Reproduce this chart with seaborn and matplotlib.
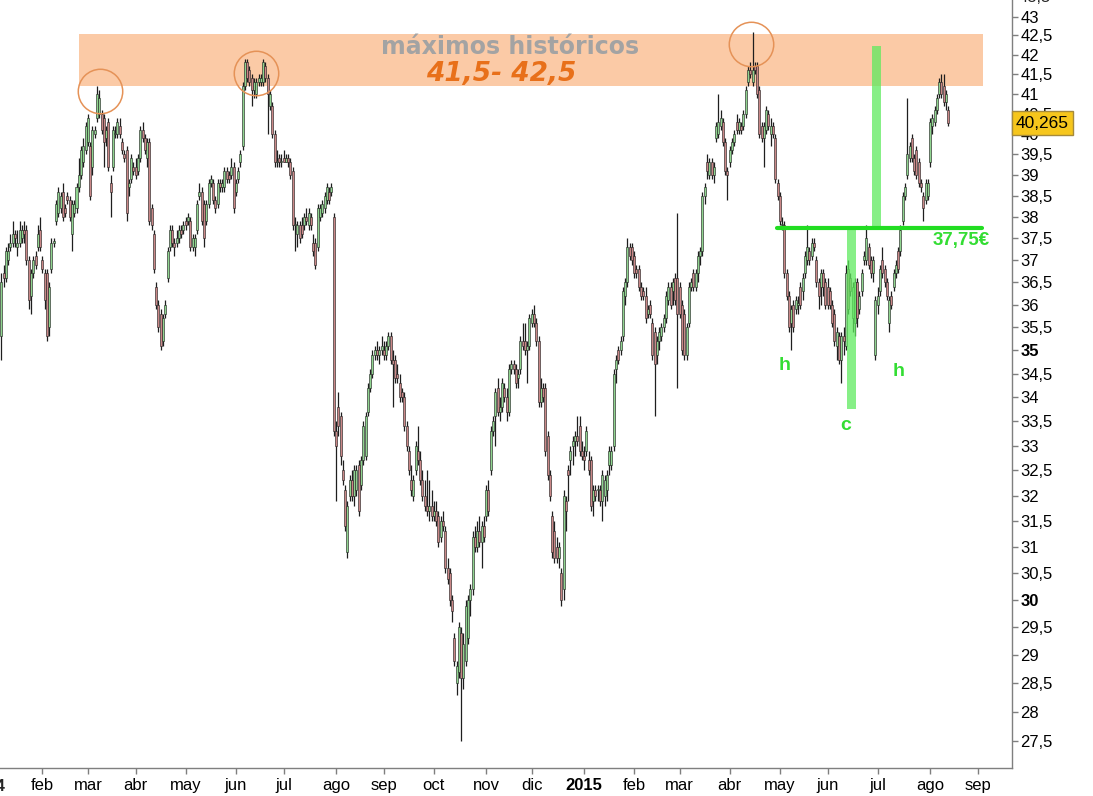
import numpy as np
import pandas as pd
import matplotlib
matplotlib.use("Agg")
import matplotlib.pyplot as plt
import matplotlib.transforms as mtransforms
from matplotlib.ticker import NullLocator
import seaborn as sns

# ---- daily candles (open, high, low, close) ----
jan14 = [(35.3, 36.7, 34.8, 36.5), (36.7, 36.9, 36.4, 36.6), (36.6, 37.3, 36.5, 37.2), (37.0, 37.4, 36.9, 37.2),
         (37.3, 37.6, 37.2, 37.4), (37.4, 37.9, 37.3, 37.6), (37.6, 37.7, 37.3, 37.5), (37.3, 37.7, 37.1, 37.4),
         (37.4, 37.9, 37.3, 37.7), (37.5, 37.8, 37.4, 37.7), (37.7, 37.9, 37.4, 37.6), (37.7, 37.8, 36.9, 37.0),
         (37.0, 37.1, 35.9, 36.1), (36.2, 36.8, 35.8, 36.7), (36.7, 37.1, 36.6, 37.0), (37.1, 37.2, 36.8, 36.9),
         (37.3, 37.8, 37.2, 37.6), (37.7, 38.0, 37.2, 37.3)]
feb14 = [(37.0, 37.1, 36.7, 36.8), (36.7, 36.8, 35.9, 36.1), (36.7, 36.8, 35.2, 35.3), (35.5, 36.5, 35.3, 36.4),
         (36.8, 37.5, 36.7, 37.4), (37.4, 37.5, 37.3, 37.4), (37.9, 38.4, 37.8, 38.3), (38.1, 38.7, 38.0, 38.6),
         (38.2, 38.6, 38.1, 38.5), (38.6, 38.8, 37.9, 38.0), (38.2, 38.3, 38.0, 38.1), (38.5, 38.6, 38.3, 38.4),
         (38.4, 38.5, 37.9, 38.0), (37.6, 38.4, 37.2, 38.3), (38.1, 38.4, 38.0, 38.3), (38.2, 38.8, 38.1, 38.7),
         (38.7, 39.4, 38.6, 39.0), (39.0, 39.7, 38.9, 39.6), (39.3, 39.9, 39.2, 39.7), (39.6, 40.3, 39.5, 40.2)]
mar14 = [(39.8, 40.5, 39.7, 40.4), (39.7, 39.8, 38.4, 38.5), (39.2, 40.2, 39.0, 40.1), (40.0, 40.2, 39.9, 40.1),
         (40.4, 41.2, 40.3, 41.0), (40.5, 41.1, 40.4, 40.9), (40.5, 40.6, 40.0, 40.1), (40.4, 40.5, 39.2, 39.8),
         (39.9, 40.2, 39.7, 40.1), (40.3, 40.4, 39.1, 39.2), (38.8, 39.0, 38.0, 38.6), (39.2, 40.2, 39.1, 40.1),
         (40.0, 40.2, 39.9, 40.0), (40.0, 40.4, 39.9, 40.3), (40.2, 40.4, 39.9, 40.0), (39.8, 39.9, 39.5, 39.6),
         (39.5, 39.6, 39.3, 39.4), (39.6, 39.7, 37.9, 38.1), (38.7, 38.9, 38.5, 38.8), (38.9, 39.5, 38.8, 39.4),
         (39.2, 39.3, 39.0, 39.1)]
apr14 = [(39.2, 39.4, 38.9, 39.0), (39.1, 39.5, 39.0, 39.4), (39.4, 40.2, 39.3, 40.1), (40.1, 40.3, 39.8, 39.9),
         (39.9, 40.0, 39.5, 39.6), (39.4, 39.9, 39.2, 39.8), (39.8, 39.9, 37.8, 37.9), (38.2, 38.3, 37.7, 37.8),
         (37.6, 37.7, 36.7, 36.8), (36.4, 36.5, 35.9, 36.0), (36.0, 36.1, 35.4, 35.5), (35.8, 35.9, 35.0, 35.1),
         (35.2, 35.8, 35.1, 35.7), (35.8, 36.1, 35.7, 36.0), (36.6, 37.3, 36.5, 37.2), (37.3, 37.8, 37.2, 37.7),
         (37.7, 37.8, 37.3, 37.4), (37.4, 37.5, 37.1, 37.3), (37.4, 37.7, 37.3, 37.5), (37.5, 37.8, 37.4, 37.7),
         (37.7, 37.8, 37.5, 37.6), (37.7, 37.9, 37.6, 37.8)]
may14 = [(37.9, 38.0, 37.7, 37.8), (37.9, 38.1, 37.8, 38.0), (37.9, 38.0, 37.2, 37.3), (37.3, 37.6, 37.2, 37.5),
         (37.3, 37.6, 37.1, 37.5), (37.7, 38.4, 37.6, 38.3), (38.5, 38.8, 38.4, 38.6), (38.6, 38.7, 37.8, 37.9),
         (38.3, 38.4, 37.3, 37.5), (37.9, 38.4, 37.8, 38.3), (38.3, 38.9, 38.2, 38.8), (38.8, 39.0, 38.7, 38.9),
         (38.8, 38.9, 38.3, 38.4), (38.4, 38.5, 38.1, 38.2), (38.3, 38.9, 38.2, 38.8), (38.8, 38.9, 38.6, 38.7),
         (38.7, 38.9, 38.6, 38.8), (38.7, 39.2, 38.6, 39.1), (39.1, 39.2, 38.8, 38.9), (39.0, 39.1, 38.8, 38.9),
         (39.0, 39.4, 38.9, 39.2), (39.2, 39.3, 38.1, 38.2)]
jun14 = [(38.6, 38.9, 38.5, 38.8), (38.9, 39.2, 38.8, 39.1), (39.3, 39.6, 39.2, 39.5), (39.7, 41.3, 39.6, 41.2),
         (41.2, 41.9, 41.1, 41.8), (41.8, 41.9, 41.3, 41.4), (41.6, 41.7, 41.2, 41.3), (41.4, 41.5, 40.7, 41.1),
         (41.1, 41.4, 40.9, 41.3), (41.0, 41.4, 40.9, 41.3), (41.3, 41.5, 41.2, 41.4), (41.3, 41.5, 41.2, 41.4),
         (41.3, 41.9, 41.2, 41.8), (41.7, 41.8, 41.3, 41.4), (41.4, 41.5, 40.0, 41.0), (40.7, 41.1, 40.6, 41.0),
         (40.7, 40.8, 39.9, 40.0), (40.0, 40.1, 39.2, 39.3), (39.3, 39.6, 39.2, 39.3), (39.4, 39.5, 39.2, 39.3),
         (39.3, 39.5, 39.2, 39.3)]
jul14 = [(39.4, 39.6, 39.3, 39.3), (39.3, 39.5, 39.3, 39.4), (39.4, 39.5, 39.2, 39.3), (39.3, 39.4, 38.9, 39.0),
         (39.1, 39.2, 37.7, 37.8), (37.8, 38.0, 37.2, 37.8), (37.6, 37.9, 37.3, 37.8), (37.8, 37.9, 37.4, 37.5),
         (37.8, 38.0, 37.5, 37.6), (37.8, 38.1, 37.7, 38.0), (38.0, 38.2, 37.8, 37.9), (37.8, 38.2, 37.7, 38.1),
         (38.0, 38.1, 37.7, 37.8), (37.4, 37.6, 37.1, 37.2), (37.4, 37.5, 36.8, 36.9), (37.3, 38.3, 37.2, 38.2),
         (38.0, 38.3, 37.9, 38.2), (38.1, 38.4, 38.0, 38.3), (38.2, 38.6, 38.1, 38.5), (38.4, 38.8, 38.3, 38.7),
         (38.6, 38.7, 38.3, 38.4), (38.6, 38.8, 38.5, 38.7), (38.0, 38.1, 33.2, 33.3)]
aug14 = [(33.3, 33.5, 31.9, 33.0), (33.8, 34.1, 33.2, 33.4), (33.6, 33.7, 32.6, 32.8), (32.5, 32.7, 32.2, 32.3),
         (32.1, 32.2, 31.3, 31.4), (30.9, 31.9, 30.8, 31.8), (32.0, 32.4, 31.9, 32.3), (32.3, 32.5, 31.9, 32.0),
         (32.0, 32.6, 31.8, 32.5), (32.1, 32.6, 32.0, 32.5), (32.6, 32.7, 31.6, 31.7), (32.2, 32.8, 32.1, 32.7),
         (32.7, 33.5, 32.6, 33.4), (32.8, 33.7, 32.7, 33.6), (33.7, 34.3, 33.6, 34.2), (34.2, 34.6, 34.1, 34.5),
         (34.5, 35.0, 34.4, 34.9), (34.9, 35.1, 34.8, 35.0), (35.0, 35.2, 34.8, 34.9), (34.9, 35.1, 34.7, 35.0),
         (35.0, 35.3, 34.9, 35.1)]
sep14 = [(35.0, 35.2, 34.8, 34.9), (34.9, 35.2, 34.8, 35.1), (35.1, 35.4, 35.0, 35.3), (35.3, 35.4, 34.7, 34.8),
         (34.8, 35.0, 33.8, 34.7), (34.8, 34.9, 34.3, 34.4), (34.5, 34.7, 34.3, 34.4), (34.3, 34.5, 33.9, 34.0),
         (34.1, 34.2, 33.9, 34.0), (34.0, 34.1, 33.3, 33.4), (33.4, 33.5, 32.9, 33.0), (32.9, 33.0, 32.4, 32.5),
         (32.3, 32.6, 32.0, 32.1), (32.0, 32.4, 31.9, 32.3), (32.5, 33.1, 32.4, 33.0), (32.9, 33.4, 32.6, 32.7),
         (32.7, 32.9, 32.2, 32.3), (32.3, 32.5, 31.9, 32.0), (32.0, 32.3, 31.7, 31.8), (31.8, 32.5, 31.6, 31.7),
         (31.7, 32.3, 31.5, 31.8), (31.8, 32.1, 31.5, 31.6)]
oct14 = [(31.6, 31.9, 31.5, 31.7), (31.7, 31.9, 31.4, 31.5), (31.6, 31.7, 31.0, 31.1), (31.2, 31.6, 31.1, 31.5),
         (31.5, 31.7, 31.3, 31.4), (31.3, 31.4, 30.5, 30.6), (30.6, 30.8, 30.3, 30.4), (30.5, 30.6, 29.9, 30.0),
         (30.0, 30.1, 29.6, 29.8), (29.3, 29.4, 28.8, 28.9), (28.5, 28.9, 28.3, 28.8), (28.7, 29.6, 28.6, 29.5),
         (29.4, 29.5, 27.5, 28.6), (28.6, 29.4, 28.4, 29.2), (28.9, 30.0, 28.8, 29.9), (29.3, 30.1, 29.2, 30.0),
         (30.0, 30.3, 29.7, 30.2), (30.2, 31.3, 30.1, 31.2), (31.2, 31.4, 30.9, 31.0), (31.0, 31.5, 30.9, 31.3),
         (31.3, 31.6, 31.0, 31.1), (31.1, 31.5, 30.6, 31.4), (31.4, 31.6, 31.1, 31.2)]
nov14 = [(31.6, 32.2, 31.5, 32.1), (32.1, 32.3, 31.6, 31.7), (32.5, 33.4, 32.4, 33.3), (33.3, 33.6, 33.2, 33.5),
         (33.6, 34.2, 33.0, 34.1), (34.2, 34.4, 33.6, 33.7), (33.7, 34.0, 33.5, 33.8), (33.8, 34.4, 33.7, 34.3),
         (34.2, 34.3, 33.9, 34.0), (34.0, 34.2, 33.5, 33.7), (33.7, 34.7, 33.6, 34.6), (34.6, 34.8, 34.5, 34.7),
         (34.7, 34.8, 34.5, 34.6), (34.6, 34.7, 34.2, 34.3), (34.4, 34.6, 34.2, 34.5), (34.6, 35.3, 34.5, 35.2),
         (35.2, 35.6, 35.0, 35.1), (35.2, 35.6, 34.9, 35.0), (35.0, 35.2, 34.3, 35.1), (35.1, 35.8, 35.0, 35.7)]
dec14 = [(35.6, 35.9, 35.5, 35.8), (35.8, 36.0, 35.5, 35.6), (35.6, 35.7, 35.1, 35.2), (35.2, 35.3, 33.8, 33.9),
         (33.9, 34.4, 33.8, 34.2), (34.2, 34.3, 33.9, 34.0), (34.2, 34.3, 32.8, 32.9), (33.2, 33.3, 32.3, 32.4),
         (32.4, 32.5, 31.9, 32.0), (31.6, 31.7, 30.8, 30.9), (31.3, 31.5, 30.7, 30.8), (31.0, 31.2, 30.7, 30.8),
         (30.8, 31.1, 30.6, 31.0), (30.5, 30.6, 29.9, 30.0), (30.2, 32.1, 30.0, 32.0), (31.9, 32.0, 31.3, 31.7),
         (32.5, 32.6, 31.9, 32.4), (32.7, 33.0, 32.4, 32.9), (33.0, 33.2, 32.6, 33.1), (33.1, 33.3, 32.8, 33.2),
         (33.2, 33.6, 33.0, 33.1), (33.4, 33.6, 32.8, 32.9), (32.9, 33.1, 32.7, 32.8)]
jan15 = [(32.8, 33.0, 32.5, 32.7), (32.9, 33.4, 32.8, 33.3), (32.7, 32.9, 32.4, 32.5), (32.7, 32.8, 31.7, 31.8),
         (31.9, 32.2, 31.6, 32.1), (32.1, 32.2, 31.9, 32.0), (32.1, 32.2, 31.9, 32.1), (32.1, 32.2, 31.8, 31.9),
         (31.9, 32.5, 31.5, 32.4), (32.0, 32.4, 31.8, 32.3), (32.1, 32.5, 31.9, 32.4), (32.6, 33.0, 32.4, 32.9),
         (32.6, 33.0, 32.5, 32.9), (33.0, 34.6, 32.9, 34.5), (34.6, 34.9, 34.3, 34.8), (35.0, 35.1, 34.7, 34.8),
         (35.0, 35.3, 34.9, 35.2), (35.3, 36.4, 35.2, 36.3), (36.2, 36.6, 36.0, 36.5), (36.5, 37.5, 36.4, 37.3),
         (37.3, 37.4, 37.0, 37.1), (37.3, 37.4, 36.9, 37.0)]
feb15 = [(37.1, 37.2, 36.6, 36.7), (36.8, 36.9, 36.6, 36.7), (36.8, 36.9, 36.3, 36.4), (36.4, 36.5, 36.1, 36.2),
         (36.3, 36.4, 36.1, 36.2), (36.2, 36.4, 35.6, 35.7), (35.8, 36.0, 35.7, 35.9), (36.0, 36.1, 35.7, 35.8),
         (35.6, 35.7, 34.8, 34.9), (35.4, 35.5, 33.6, 34.7), (34.9, 35.3, 34.7, 35.2), (35.2, 35.5, 35.0, 35.4),
         (35.3, 35.6, 35.2, 35.5), (35.5, 35.8, 35.4, 35.7), (35.7, 36.3, 35.6, 36.2), (36.1, 36.5, 36.0, 36.4),
         (36.4, 36.5, 35.9, 36.0), (36.3, 36.6, 36.0, 36.5), (36.6, 36.7, 36.0, 36.1), (36.6, 38.1, 34.2, 35.8)]
mar15 = [(36.4, 36.5, 35.7, 35.8), (36.0, 36.1, 34.9, 35.0), (35.8, 35.9, 34.8, 34.9), (34.9, 35.6, 34.8, 35.5),
         (35.6, 36.5, 35.5, 36.4), (36.4, 36.6, 36.3, 36.5), (36.7, 36.8, 36.3, 36.4), (36.4, 36.8, 36.3, 36.7),
         (36.7, 37.2, 36.5, 37.1), (37.1, 37.3, 36.9, 37.2), (37.2, 38.6, 37.1, 38.5), (38.5, 38.8, 38.3, 38.7),
         (39.3, 39.5, 38.9, 39.1), (39.0, 39.4, 38.9, 39.3), (39.3, 39.4, 38.9, 39.0), (39.0, 39.3, 38.8, 39.2),
         (39.9, 40.3, 39.8, 40.2), (40.0, 41.0, 39.9, 40.3), (40.2, 40.6, 40.1, 40.4), (40.3, 40.4, 39.7, 39.8),
         (39.8, 39.9, 39.0, 39.1), (39.1, 39.2, 38.4, 39.0)]
apr15 = [(39.3, 39.7, 39.2, 39.6), (39.6, 39.9, 39.5, 39.8), (39.8, 40.1, 39.7, 40.0), (40.3, 40.5, 40.0, 40.1),
         (40.1, 40.4, 40.0, 40.3), (40.2, 40.3, 40.0, 40.1), (40.2, 40.6, 40.1, 40.5), (40.5, 41.2, 40.4, 41.1),
         (41.3, 41.7, 41.2, 41.6), (41.6, 41.8, 41.4, 41.5), (41.3, 42.6, 41.2, 41.6), (41.7, 41.8, 41.5, 41.6),
         (41.7, 41.8, 40.9, 41.0), (41.1, 41.2, 39.9, 40.0), (40.2, 40.3, 39.8, 39.9), (39.9, 40.3, 39.2, 40.2),
         (40.1, 40.7, 40.0, 40.6), (40.5, 40.6, 40.1, 40.2), (40.0, 40.4, 39.7, 40.2), (40.2, 40.3, 39.9, 40.0),
         (39.9, 40.0, 38.8, 38.9), (38.8, 38.9, 38.4, 38.5)]
may15 = [(38.5, 38.6, 37.8, 37.9), (37.8, 38.0, 37.7, 37.8), (37.8, 37.9, 36.6, 36.7), (36.7, 36.8, 36.1, 36.2),
         (36.2, 36.3, 35.4, 35.5), (35.6, 36.0, 35.0, 35.9), (36.0, 36.1, 35.4, 35.5), (35.9, 36.2, 35.8, 36.1),
         (36.0, 36.2, 35.8, 36.0), (36.4, 36.5, 35.9, 36.0), (36.3, 36.7, 36.1, 36.6), (36.7, 37.2, 36.6, 37.1),
         (37.0, 37.8, 36.9, 37.3), (37.2, 37.3, 36.9, 37.0), (37.1, 37.5, 37.0, 37.4), (37.4, 37.5, 37.2, 37.3),
         (37.0, 37.1, 36.4, 36.5), (36.5, 36.6, 35.9, 36.2), (36.4, 36.8, 36.0, 36.7), (36.7, 36.8, 36.2, 36.4),
         (36.5, 36.6, 35.9, 36.0)]
jun15 = [(36.4, 36.6, 35.9, 36.0), (36.3, 36.4, 35.9, 36.0), (36.0, 36.1, 35.5, 35.6), (35.8, 35.9, 35.1, 35.2),
         (35.1, 35.5, 34.8, 35.4), (35.3, 35.4, 34.7, 34.8), (34.8, 35.4, 34.3, 35.3), (35.3, 35.5, 34.9, 35.2),
         (35.1, 36.9, 35.0, 36.7), (36.8, 37.0, 35.8, 35.9), (36.6, 36.7, 36.2, 36.3), (35.7, 36.5, 35.4, 36.4),
         (35.6, 36.6, 35.3, 36.5), (36.5, 36.6, 35.5, 35.7), (35.9, 36.3, 35.8, 36.2), (36.3, 36.8, 36.2, 36.7),
         (37.0, 37.2, 36.9, 37.1), (37.0, 37.8, 36.9, 37.5), (37.3, 37.4, 36.8, 36.9), (37.0, 37.1, 36.6, 36.7),
         (36.7, 37.1, 36.5, 37.0), (34.9, 36.2, 34.8, 36.1)]
jul15 = [(36.0, 36.4, 35.8, 36.2), (36.3, 36.9, 36.2, 36.8), (37.0, 37.3, 36.6, 36.7), (36.8, 36.9, 36.4, 36.5),
         (36.5, 36.6, 36.1, 36.2), (35.6, 36.2, 35.4, 36.1), (36.2, 36.3, 35.9, 36.0), (36.4, 36.8, 36.3, 36.7),
         (36.7, 37.0, 36.6, 36.9), (37.2, 37.3, 36.7, 36.8), (37.2, 37.8, 37.1, 37.7), (37.9, 38.6, 37.8, 38.5),
         (38.5, 38.8, 38.4, 38.7), (39.0, 40.9, 38.9, 39.5), (39.4, 39.8, 39.3, 39.7), (39.9, 40.0, 39.3, 39.4),
         (39.4, 39.5, 39.0, 39.1), (39.6, 39.7, 38.9, 39.0), (39.3, 39.4, 38.7, 38.8), (38.8, 38.9, 38.6, 38.7),
         (38.5, 38.6, 37.9, 38.2), (38.4, 38.9, 38.3, 38.8), (38.5, 38.9, 38.4, 38.8)]
aug15 = [(39.3, 40.4, 39.2, 40.3), (40.2, 40.5, 40.0, 40.4), (40.3, 40.7, 40.2, 40.6), (40.6, 41.0, 40.5, 40.9),
         (41.0, 41.4, 40.9, 41.3), (41.3, 41.5, 40.9, 41.0), (41.2, 41.5, 40.7, 40.8), (40.8, 41.1, 40.6, 41.0),
         (40.6, 40.7, 40.2, 40.265)]

first_day = "2014-01-08"
last_price = 40.265
neckline = 37.75
zone_low, zone_high = 41.2, 42.55
y_ticks = [27.5 + 0.5 * k for k in range(32)]
month_labels = ["2014", "feb", "mar", "abr", "may", "jun", "jul", "ago", "sep", "oct", "nov", "dic",
                "2015", "feb", "mar", "abr", "may", "jun", "jul", "ago", "sep"]

# ---- build the frame on a trading-day axis ----
candles = (jan14 + feb14 + mar14 + apr14 + may14 + jun14 + jul14 + aug14 + sep14 + oct14 + nov14 + dec14
           + jan15 + feb15 + mar15 + apr15 + may15 + jun15 + jul15 + aug15)
cal = pd.bdate_range("2014-01-01", "2015-09-30")
dates = pd.bdate_range(first_day, periods=len(candles))
df = pd.DataFrame(candles, columns=["open", "high", "low", "close"])
df["date"] = dates
df["x"] = cal.get_indexer(dates)

month_start = pd.Series(np.arange(len(cal)), index=cal).groupby([cal.year, cal.month]).min().values

sns.set_theme(style="white")
plt.rcParams["font.family"] = ["Liberation Sans", "DejaVu Sans"]

GREEN = "#8fd48f"
RED = "#c98787"
EDGE = "#1e1e1e"
AXC = "#7f7f7f"
TXT_GREEN = "#33dd33"

fig = plt.figure(figsize=(10.93, 7.96), dpi=100)
ax = fig.add_axes([0.0, 28 / 796, 1012 / 1093, 768 / 796])
ax.set_yscale("log")
ax.set_xlim(4.39, 449.0)
ax.set_ylim(27.05, 43.44)

# resistance zone
ax.fill_between([39.1, 436.3], zone_low, zone_high, color="#fbcaa6", lw=0, zorder=0)

# candles
x = df["x"].values
o, h, l, c = df["open"].values, df["high"].values, df["low"].values, df["close"].values
up = c >= o
lo = np.minimum(o, c)
hi = np.maximum(o, c)
hi = np.where(hi - lo < 0.03, lo + 0.03, hi)
ax.vlines(x, l, h, color=EDGE, lw=0.9, zorder=2)
ax.bar(x[up], (hi - lo)[up], bottom=lo[up], width=0.88, color=GREEN, edgecolor=EDGE, linewidth=0.4, zorder=3)
ax.bar(x[~up], (hi - lo)[~up], bottom=lo[~up], width=0.88, color=RED, edgecolor=EDGE, linewidth=0.4, zorder=3)

# neckline (seaborn)
neck = pd.DataFrame({"x": [345.8, 435.8], "y": [neckline, neckline]})
sns.lineplot(data=neck, x="x", y="y", color="#22dd22", lw=3, ax=ax, zorder=5)

# target bars
ax.fill_between([376.6, 380.6], 33.76, neckline, color="#5fea5f", alpha=0.75, lw=0, zorder=4)
ax.fill_between([387.6, 391.6], neckline, 42.23, color="#5fea5f", alpha=0.75, lw=0, zorder=4)

# circles around the tops
for cx, cy in [(48.3, 41.06), (116.7, 41.52), (334.4, 42.27)]:
    ax.plot([cx], [cy], marker="o", ms=32, mfc="none", mec="#e59257", mew=1.1, zorder=6)

# texts
ax.text(510 / 1012, 1 - 47 / 768, "máximos históricos", transform=ax.transAxes, ha="center", va="center",
        fontsize=17, fontweight="bold", color="#a3a3a3", zorder=7, family=["DejaVu Sans"])
ax.text(501 / 1012, 1 - 74 / 768, "41,5- 42,5", transform=ax.transAxes, ha="center", va="center",
        fontsize=19, fontweight="bold", fontstyle="italic", color="#e8701a", zorder=7, family=["DejaVu Sans"])
ax.text(990 / 1012, 1 - 240 / 768, "37,75€", transform=ax.transAxes, ha="right", va="center",
        fontsize=13.5, fontweight="bold", color=TXT_GREEN, zorder=7)
for tx, ty, s in [(785, 365, "h"), (846, 425, "c"), (899, 371, "h")]:
    ax.text(tx / 1012, 1 - ty / 768, s, transform=ax.transAxes, ha="center", va="center",
            fontsize=14, fontweight="bold", color=TXT_GREEN, zorder=7)

# axes styling
for side in ["left", "top"]:
    ax.spines[side].set_visible(False)
for side in ["right", "bottom"]:
    ax.spines[side].set_visible(True)
    ax.spines[side].set_color(AXC)
    ax.spines[side].set_linewidth(1.0)
ax.grid(False)
ax.set_xlabel("")
ax.set_ylabel("")

ax.yaxis.tick_right()
ax.yaxis.set_minor_locator(NullLocator())
ax.set_yticks(y_ticks, [f"{v:g}".replace(".", ",") for v in y_ticks])
ax.tick_params(axis="y", which="major", direction="out", length=4, width=1, color=AXC, pad=2,
               labelsize=12, labelcolor="black", right=True, left=False)
for lab in ax.get_yticklabels():
    if lab.get_text() in ("35", "30"):
        lab.set_fontweight("bold")

ticks = [m for m in month_start if 4.39 < m < 449.0]
labels = [month_labels[i] for i, m in enumerate(month_start) if 4.39 < m < 449.0]
ax.set_xticks(ticks, labels)
ax.xaxis.set_minor_locator(NullLocator())
ax.tick_params(axis="x", which="major", direction="out", length=4, width=1, color=AXC, pad=3,
               labelsize=12, labelcolor="black", bottom=True)
for lab in ax.get_xticklabels():
    if lab.get_text() in ("2015",):
        lab.set_fontweight("bold")

# partially visible labels at edges
trans_x = mtransforms.blended_transform_factory(ax.transData, ax.transAxes)
ax.text(month_start[0] - 1.5, -0.0245, month_labels[0], transform=trans_x, ha="center", va="center",
        fontsize=12, fontweight="bold", clip_on=False)
trans_y = mtransforms.blended_transform_factory(ax.transAxes, ax.transData)
ax.text(1.0 + 7 / 1012, 43.5, "43,5", transform=trans_y, ha="left", va="center", fontsize=12, clip_on=False)

# last price tag
ax.text(1.0 + 4 / 1012, last_price, f"{last_price:.3f}".replace(".", ","), transform=trans_y, ha="left",
        va="center", fontsize=12.5, color="black", zorder=8, clip_on=False,
        bbox=dict(boxstyle="square,pad=0.25", fc="#f6c61c", ec="#a58a3c", lw=1))

fig.savefig("out.png", dpi=100)
